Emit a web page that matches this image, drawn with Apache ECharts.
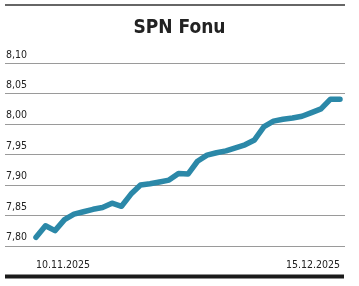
<!DOCTYPE html>
<html>
<head>
<meta charset="utf-8">
<script src="https://cdn.jsdelivr.net/npm/echarts@6/dist/echarts.min.js"></script>
<style>html,body{margin:0;padding:0;background:#fff}#c{width:359px;height:286px}</style>
</head>
<body>
<div id="c"></div>
<script>
const title = 'SPN Fonu';
const dates = ['10.11.2025','11.11.2025','12.11.2025','13.11.2025','14.11.2025','17.11.2025','18.11.2025','19.11.2025','20.11.2025','21.11.2025','22.11.2025','23.11.2025','24.11.2025','25.11.2025','26.11.2025','27.11.2025','28.11.2025','29.11.2025','30.11.2025','01.12.2025','02.12.2025','03.12.2025','04.12.2025','05.12.2025','06.12.2025','07.12.2025','08.12.2025','09.12.2025','10.12.2025','11.12.2025','12.12.2025','14.12.2025','15.12.2025'];
const prices = [7.814,7.833,7.825,7.843,7.852,7.856,7.860,7.863,7.870,7.865,7.885,7.900,7.902,7.905,7.908,7.919,7.918,7.939,7.949,7.953,7.956,7.961,7.966,7.974,7.996,8.005,8.008,8.010,8.013,8.019,8.025,8.041,8.041];
const yTicks = [7.80,7.85,7.90,7.95,8.00,8.05,8.10];

const FONT = '"Liberation Sans Narrow","DejaVu Sans Condensed",sans-serif';
const chart = echarts.init(document.getElementById('c'), null, {renderer:'canvas'});
const last = dates.length - 1;
chart.setOption({
  animation:false,
  backgroundColor:'#fff',
  title:{text:title,left:'center',top:14,textStyle:{fontFamily:FONT,fontWeight:'bold',fontSize:19,color:'#222'}},
  graphic:[
    {type:'line',shape:{x1:5,y1:5,x2:345,y2:5},style:{stroke:'#333',lineWidth:1.5}},
    {type:'line',shape:{x1:5,y1:276.5,x2:344,y2:276.5},style:{stroke:'#1a1a1a',lineWidth:4}}
  ],
  grid:[
    {left:36,right:19,top:63.3,bottom:40.2},
    {left:5,right:14,top:63.3,bottom:40.2}
  ],
  xAxis:[
    {type:'category',gridIndex:0,data:dates,boundaryGap:false,
     axisLine:{show:false},axisTick:{show:false},splitLine:{show:false},
     axisLabel:{interval:(i)=>i===0||i===last,margin:14,alignMinLabel:'left',alignMaxLabel:'right',
       fontFamily:FONT,fontSize:10.5,color:'#222',
       formatter:(v,i)=>v}},
    {type:'value',gridIndex:1,min:0,max:1,show:false}
  ],
  yAxis:[
    {type:'value',gridIndex:0,min:yTicks[0],max:yTicks[yTicks.length-1],interval:0.05,show:false,splitLine:{show:false}},
    {type:'value',gridIndex:1,min:yTicks[0],max:yTicks[yTicks.length-1],interval:0.05,
     axisLine:{show:false},axisTick:{show:false},
     splitLine:{show:true,lineStyle:{color:'#9a9a9a',width:1}},
     axisLabel:{inside:true,margin:1,verticalAlign:'bottom',padding:[0,0,3,0],
       fontFamily:FONT,fontSize:10.5,color:'#222',
       formatter:(v)=>v.toFixed(2).replace('.',',')}}
  ],
  series:[
    {type:'line',xAxisIndex:0,yAxisIndex:0,data:prices,symbol:'none',smooth:false,
     lineStyle:{color:'#2b88a8',width:5.5,cap:'round',join:'round'}}
  ]
});
</script>
</body>
</html>
